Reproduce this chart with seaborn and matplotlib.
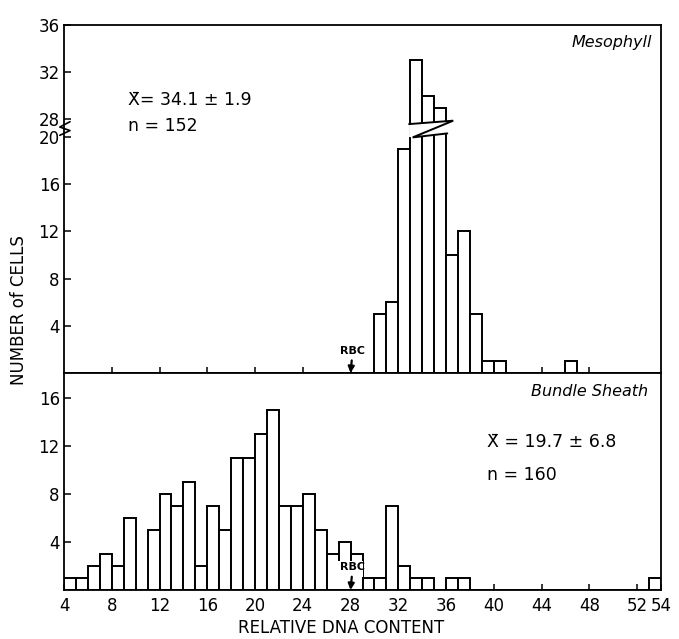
import numpy as np
import pandas as pd
import matplotlib
matplotlib.use("Agg")
import matplotlib.pyplot as plt
import seaborn as sns
from matplotlib.patches import Polygon

# ---------------- data ----------------
meso_bin = [30, 31, 32, 33, 34, 35, 36, 37, 38, 39, 40, 46]
meso_count = [5, 6, 19, 33, 30, 29, 10, 12, 5, 1, 1, 1]

bs_bin = [4, 5, 6, 7, 8, 9, 11, 12, 13, 14, 15, 16, 17, 18, 19, 20, 21, 22, 23,
          24, 25, 26, 27, 28, 29, 30, 31, 32, 33, 34, 36, 37, 53]
bs_count = [1, 1, 2, 3, 2, 6, 5, 8, 7, 9, 2, 7, 5, 11, 11, 13, 15, 7, 7,
            8, 5, 3, 4, 3, 1, 1, 7, 2, 1, 1, 1, 1, 1]

x_ticks = [4, 8, 12, 16, 20, 24, 28, 32, 36, 40, 44, 48, 52, 54]
meso_yticks = [4, 8, 12, 16, 20, 28, 32, 36]
bs_yticks = [4, 8, 12, 16]
rbc_value = 28
meso_stats = ["X\u0304= 34.1 \u00b1 1.9", "n = 152"]
bs_stats = ["X\u0304 = 19.7 \u00b1 6.8", "n = 160"]

meso_df = pd.DataFrame({"content": np.array(meso_bin, float) + 0.5,
                        "cells": np.array(meso_count, float)})
bs_df = pd.DataFrame({"content": np.array(bs_bin, float) + 0.5,
                      "cells": np.array(bs_count, float)})

# ---------------- style ----------------
sns.set_theme(style="ticks")
plt.rcParams["font.family"] = ["DejaVu Sans"]
plt.rcParams["axes.edgecolor"] = "black"
plt.rcParams["axes.linewidth"] = 1.2
plt.rcParams["text.color"] = "black"
plt.rcParams["xtick.color"] = "black"
plt.rcParams["ytick.color"] = "black"
plt.rcParams["axes.labelcolor"] = "black"

W, H = 679, 639
fig = plt.figure(figsize=(W / 100, H / 100), dpi=100)
fig.patch.set_facecolor("white")


def px_axes(x0, y0, x1, y1):
    return fig.add_axes([x0 / W, 1 - y1 / H, (x1 - x0) / W, (y1 - y0) / H])


ax1 = px_axes(64, 25, 661, 373)
ax2 = px_axes(64, 373, 661, 590)

edges = [float(e) for e in range(4, 55)]
bar_kw = dict(x="content", weights="cells", bins=edges, stat="count",
              color="white", edgecolor="black", linewidth=1.4, alpha=1)

sns.histplot(data=meso_df, ax=ax1, **bar_kw)
sns.histplot(data=bs_df, ax=ax2, **bar_kw)

# broken y-axis for the upper panel (20 .. 28 compressed)
LOW, HIGH, GAP = 20.0, 28.0, 1.5


def fwd(v):
    v = np.asarray(v, float)
    return np.where(v <= LOW, v,
                    np.where(v >= HIGH, v - (HIGH - LOW) + GAP,
                             LOW + (v - LOW) * GAP / (HIGH - LOW)))


def inv(d):
    d = np.asarray(d, float)
    return np.where(d <= LOW, d,
                    np.where(d >= LOW + GAP, d + (HIGH - LOW) - GAP,
                             LOW + (d - LOW) * (HIGH - LOW) / GAP))


ax1.set_yscale("function", functions=(fwd, inv))

for ax in (ax1, ax2):
    ax.set_xlim(4, 54)
    ax.set_xlabel("")
    ax.set_ylabel("")
    ax.set_facecolor("white")
    for s in ax.spines.values():
        s.set_linewidth(1.3)
        s.set_color("black")
        s.set_zorder(4)
    ax.tick_params(axis="both", direction="in", length=5, width=1.1,
                   color="black", labelsize=12, labelcolor="black", pad=3)

ax1.set_ylim(0, 36)
ax1.set_yticks(meso_yticks)
ax1.set_yticklabels([str(t) for t in meso_yticks])
ax1.yaxis.set_minor_locator(matplotlib.ticker.NullLocator())
ax1.set_xticks(x_ticks[1:-2])
ax1.tick_params(axis="x", labelbottom=False, length=4)

ax2.set_ylim(0, 217 / 12)
ax2.set_yticks(bs_yticks)
ax2.set_xticks(x_ticks)
ax2.set_xticklabels([str(t) for t in x_ticks])
ax2.tick_params(axis="x", length=4, pad=5)

# break marks on the tall mesophyll bars (display units of the broken axis)
brk_lo = (19.97, 20.31)
brk_hi = (21.10, 21.39)
bx0, bx1 = 32.9, 36.6
lo_pts = [(33.2, brk_lo[0]), (36.1, brk_lo[1])]
hi_pts = [(bx0, brk_hi[0]), (bx1, brk_hi[1])]
cover = [(bx0, brk_lo[0] + 0.02), (bx1, brk_lo[1] + 0.05),
         (bx1, brk_hi[1] - 0.02), (bx0, brk_hi[0] - 0.02)]
ax1.add_patch(Polygon([(x, float(inv(y))) for x, y in cover], closed=True,
                      facecolor="white", edgecolor="none", zorder=3))
zig = [hi_pts[0], hi_pts[1], lo_pts[0], lo_pts[1]]
ax1.plot([p[0] for p in zig], [float(inv(p[1])) for p in zig],
         color="black", lw=1.4, zorder=3.5, solid_joinstyle="miter")

# zigzag on the left spine
spine_zig = [(3.65, 20.15), (4.5, 20.55), (3.65, 20.85), (4.5, 21.3)]
ax1.plot([p[0] for p in spine_zig], [float(inv(p[1])) for p in spine_zig],
         color="black", lw=1.2, zorder=5, clip_on=False)

# RBC markers
arrow = dict(arrowstyle="-|>", color="black", lw=1.6, mutation_scale=9,
             shrinkA=1, shrinkB=0)
ax1.annotate("RBC", xy=(rbc_value, 0), xytext=(1.5, 16), textcoords="offset points",
             ha="center", va="center", fontsize=8, fontweight="bold",
             arrowprops=arrow, zorder=6)
# white gap in the bundle-sheath bars behind the RBC label
gap = [(rbc_value - 1.04, 0.1), (rbc_value + 0.96, 0.1), (rbc_value + 0.96, 1.12),
       (rbc_value + 1.05, 1.12), (rbc_value + 1.05, 2.45), (rbc_value - 1.04, 2.45)]
ax2.add_patch(Polygon(gap, closed=True, facecolor="white", edgecolor="none",
                      zorder=3))
ax2.annotate("RBC", xy=(rbc_value, 0), xytext=(1.5, 16.5), textcoords="offset points",
             ha="center", va="center", fontsize=8, fontweight="bold",
             arrowprops=arrow, zorder=6)

# panel titles
fig.text(652 / W, 1 - 42 / H, "Mesophyll", ha="right", va="center",
         fontsize=11.5, fontstyle="italic")
fig.text(648 / W, 1 - 392 / H, "Bundle Sheath", ha="right", va="center",
         fontsize=11.5, fontstyle="italic")

# statistics
fig.text(128 / W, 1 - 100 / H, meso_stats[0], ha="left", va="center", fontsize=12.5)
fig.text(128 / W, 1 - 126 / H, meso_stats[1], ha="left", va="center", fontsize=12.5)
fig.text(487 / W, 1 - 442 / H, bs_stats[0], ha="left", va="center", fontsize=12.5)
fig.text(487 / W, 1 - 475 / H, bs_stats[1], ha="left", va="center", fontsize=12.5)

# axis titles
fig.text(19 / W, 1 - 310 / H, "NUMBER of CELLS", rotation=90, ha="center",
         va="center", fontsize=12)
fig.text(341 / W, 1 - 628 / H, "RELATIVE DNA CONTENT", ha="center",
         va="center", fontsize=12)

fig.savefig("out.png", dpi=100, facecolor="white")
